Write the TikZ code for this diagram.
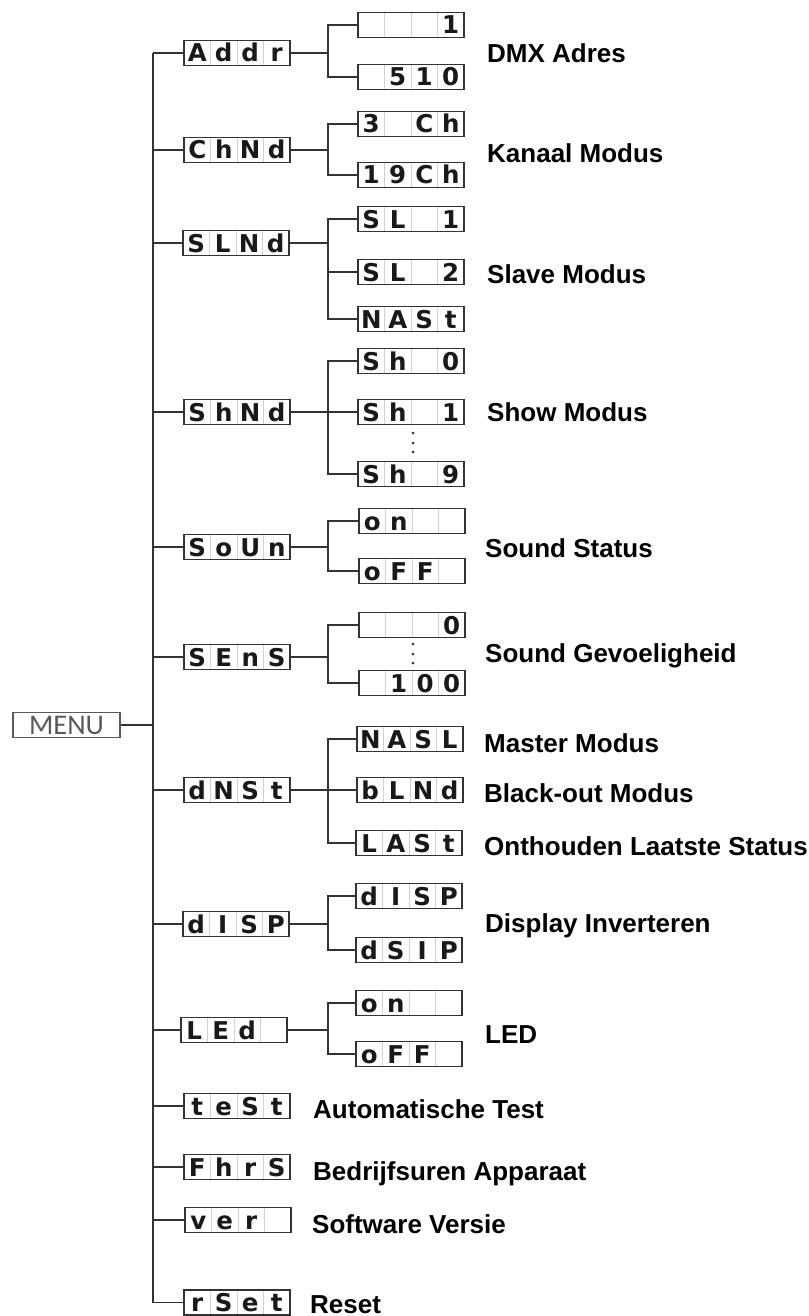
\documentclass[tikz,border=0pt]{standalone}
\usepackage{fontspec}
\setmainfont{Liberation Sans}
\newfontfamily\segfont{DejaVu Sans}
\newfontfamily\menufont{Carlito}
\usetikzlibrary{calc}
\newcommand\segcell[1]{\makebox[26.5pt]{#1}}
\newcommand\segtxt[4]{\segcell{#1}\segcell{#2}\segcell{#3}\segcell{#4}}
\tikzset{
  seg/.style={draw=black!80, line width=1.4pt, fill=white, minimum width=106pt,
    minimum height=25pt, inner sep=0pt, text height=18pt, text depth=0pt,
    font=\segfont\bfseries\fontsize{24.5}{24}\selectfont, text=black!90,
    path picture={\foreach \i in {1,2,3}{\draw[black!18, line width=0.8pt]
      ($(path picture bounding box.south west)!\i/4!(path picture bounding box.south east)$) --
      ($(path picture bounding box.north west)!\i/4!(path picture bounding box.north east)$);}}},
  lab/.style={anchor=base west, inner sep=0pt, font=\bfseries\fontsize{26}{28}\selectfont},
  conn/.style={draw=black!80, line width=1.3pt},
  menubox/.style={draw=black!65, line width=1.3pt, minimum width=107pt, minimum height=25pt,
    inner sep=0pt, text=black!65, font=\menufont\fontsize{28.5}{28}\selectfont}
}
\begin{document}
\begin{tikzpicture}[x=1pt,y=-1pt]
\useasboundingbox (0,0) rectangle (808,1316);
\coordinate (mx) at (153,0);
\coordinate (bx) at (328,0);
% menu
\node[menubox] (menu) at (66.5,725) {MENU};
% level 1
\node[seg] (addr) at (237,53) {\segtxt{A}{d}{d}{r}};
\node[seg] (chnd) at (237,150) {\segtxt{C}{h}{N}{d}};
\node[seg] (slnd) at (236,243) {\segtxt{S}{L}{N}{d}};
\node[seg] (shnd) at (237,412) {\segtxt{S}{h}{N}{d}};
\node[seg] (soun) at (237,547) {\segtxt{S}{o}{U}{n}};
\node[seg] (sens) at (237,657) {\segtxt{S}{E}{n}{S}};
\node[seg] (dnst) at (237,790) {\segtxt{d}{N}{S}{t}};
\node[seg] (disp) at (236,924) {\segtxt{d}{I}{S}{P}};
\node[seg] (led)  at (234,1030) {\segtxt{L}{E}{d}{}};
\node[seg] (test) at (237,1106) {\segtxt{t}{e}{S}{t}};
\node[seg] (fhrs) at (237,1167) {\segtxt{F}{h}{r}{S}};
\node[seg] (ver)  at (238,1220) {\segtxt{v}{e}{r}{}};
\node[seg] (rset) at (237,1302.5) {\segtxt{r}{S}{e}{t}};
% level 2
\node[seg] (a1) at (411,25) {\segtxt{}{}{}{1}};
\node[seg] (a2) at (411,77) {\segtxt{}{5}{1}{0}};
\node[seg] (c1) at (411,124) {\segtxt{3}{}{C}{h}};
\node[seg] (c2) at (411,175) {\segtxt{1}{9}{C}{h}};
\node[seg] (s1) at (411,219) {\segtxt{S}{L}{}{1}};
\node[seg] (s2) at (411,272) {\segtxt{S}{L}{}{2}};
\node[seg] (s3) at (411,319) {\segtxt{N}{A}{S}{t}};
\node[seg] (h1) at (411,361) {\segtxt{S}{h}{}{0}};
\node[seg] (h2) at (411,412) {\segtxt{S}{h}{}{1}};
\node[seg] (h3) at (411,474) {\segtxt{S}{h}{}{9}};
\node[seg] (o1) at (412,521) {\segtxt{o}{n}{}{}};
\node[seg] (o2) at (412,571) {\segtxt{o}{F}{F}{}};
\node[seg] (e1) at (412,625) {\segtxt{}{}{}{0}};
\node[seg] (e2) at (412,683) {\segtxt{}{1}{0}{0}};
\node[seg] (d1) at (410,739) {\segtxt{N}{A}{S}{L}};
\node[seg] (d2) at (410,790) {\segtxt{b}{L}{N}{d}};
\node[seg] (d3) at (409,843) {\segtxt{L}{A}{S}{t}};
\node[seg] (i1) at (409,896) {\segtxt{d}{I}{S}{P}};
\node[seg] (i2) at (409,950) {\segtxt{d}{S}{I}{P}};
\node[seg] (l1) at (409,1003) {\segtxt{o}{n}{}{}};
\node[seg] (l2) at (409,1054) {\segtxt{o}{F}{F}{}};
% dots
\foreach \y in {433,443,452,644,654,663} \fill[black!80] (413,\y) circle (1.5);
% main tree
\draw[conn] (menu.east) -- (menu.east -| mx);
\draw[conn] (mx |- addr.west) -- (mx |- rset.west);
\foreach \n in {addr,chnd,slnd,shnd,soun,sens,dnst,disp,led,test,fhrs,ver,rset}
  \draw[conn] (\n.west) -- (\n.west -| mx);
% branches
\foreach \p/\c in {addr/a1,addr/a2,chnd/c1,chnd/c2,slnd/s1,slnd/s2,slnd/s3,shnd/h1,shnd/h2,shnd/h3,
  soun/o1,soun/o2,sens/e1,sens/e2,dnst/d1,dnst/d2,dnst/d3,disp/i1,disp/i2,led/l1,led/l2}
  \draw[conn] (\p.east) -- (\p.east -| bx) |- (\c.west);
% labels
\node[lab] (t1) at (487,63) {DMX Adres};
\node[lab] (t2) at (487,163) {Kanaal Modus};
\node[lab] (t3) at (487,283) {Slave Modus};
\node[lab] (t4) at (487,421) {Show Modus};
\node[lab] (t5) at (485,557) {Sound Status};
\node[lab] (t6) at (485,662) {Sound Gevoeligheid};
\node[lab] (t7) at (484,752) {Master Modus};
\node[lab] (t8) at (484,802) {Black-out Modus};
\node[lab] (t9) at (484,855) {Onthouden Laatste Status};
\node[lab] (t10) at (485,932) {Display Inverteren};
\node[lab] (t11) at (485,1043) {LED};
\node[lab] (t12) at (313,1118) {Automatische Test};
\node[lab] (t13) at (313,1180) {Bedrijfsuren Apparaat};
\node[lab] (t14) at (312,1233) {Software Versie};
\node[lab] (t15) at (310,1313) {Reset};
\end{tikzpicture}
\end{document}
